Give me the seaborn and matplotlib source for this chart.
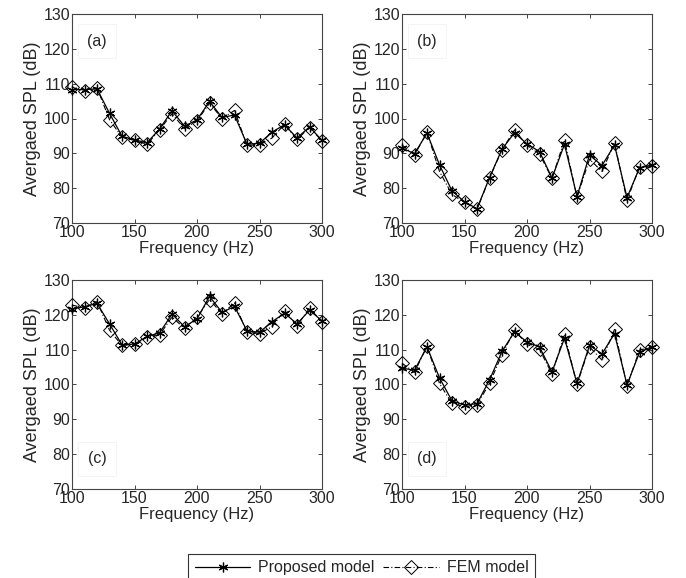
import numpy as np
import pandas as pd
import matplotlib
matplotlib.use("Agg")
import matplotlib.pyplot as plt
import seaborn as sns

# -----------------------------------------------
# datos
# -----------------------------------------------
freq = [100, 110, 120, 130, 140, 150, 160, 170, 180, 190, 200,
        210, 220, 230, 240, 250, 260, 270, 280, 290, 300]

prop_a = [108.3, 108.3, 108.5, 101.5, 94.9, 93.9, 93.0, 97.0, 102.2, 97.8, 99.6,
          104.9, 100.3, 101.0, 92.6, 92.9, 96.1, 98.2, 94.4, 97.6, 93.7]
fem_a = [109.0, 107.8, 108.8, 99.7, 94.6, 93.7, 92.6, 96.7, 101.4, 97.1, 99.3,
         104.4, 100.0, 102.3, 92.3, 92.4, 94.4, 98.3, 94.0, 97.4, 93.6]

prop_b = [91.5, 89.9, 95.8, 86.7, 79.2, 76.1, 74.1, 83.0, 91.2, 95.9, 92.7,
          90.5, 82.9, 92.6, 77.6, 89.5, 86.5, 92.4, 77.3, 85.8, 86.6]
fem_b = [92.4, 89.5, 96.0, 84.8, 78.2, 75.9, 73.9, 82.9, 91.0, 96.7, 92.3,
         89.8, 82.8, 93.8, 77.4, 88.3, 84.8, 93.0, 76.5, 86.1, 86.5]

prop_c = [121.7, 122.3, 123.3, 117.4, 111.4, 111.6, 113.8, 114.8, 120.2, 116.6, 118.8,
          125.3, 120.7, 122.4, 115.4, 115.0, 118.0, 120.5, 117.4, 121.3, 118.3]
fem_c = [122.8, 122.0, 123.8, 115.6, 111.2, 111.5, 113.6, 114.2, 119.4, 116.1, 119.3,
         124.4, 120.3, 123.4, 115.0, 114.6, 116.6, 121.2, 116.9, 121.9, 118.0]

prop_d = [104.7, 104.1, 110.8, 101.9, 95.3, 94.1, 94.5, 101.3, 109.5, 115.1, 112.2,
          110.8, 103.6, 113.3, 100.3, 111.2, 108.8, 114.6, 99.9, 109.2, 110.9]
fem_d = [106.1, 103.5, 111.0, 100.3, 94.6, 93.6, 94.2, 100.3, 108.6, 115.6, 111.5,
         110.1, 103.0, 114.4, 100.0, 110.8, 107.0, 115.8, 99.6, 109.9, 110.7]

panel_labels = ["(a)", "(b)", "(c)", "(d)"]
x_ticks = [100, 150, 200, 250, 300]
y_ticks = [70, 80, 90, 100, 110, 120, 130]

# -----------------------------------------------
# estilo
# -----------------------------------------------
sns.set_style("ticks")
plt.rcParams["font.family"] = ["Liberation Sans", "DejaVu Sans"]
plt.rcParams["xtick.direction"] = "in"
plt.rcParams["ytick.direction"] = "in"
plt.rcParams["xtick.top"] = True
plt.rcParams["ytick.right"] = True

fig = plt.figure(figsize=(6.86, 5.78), dpi=100)

# posiciones de los ejes (fraccion de figura)
ax_w, ax_h = 250 / 686, 209 / 578
lefts = [72 / 686, 402 / 686, 72 / 686, 402 / 686]
bottoms = [1 - 223 / 578, 1 - 223 / 578, 1 - 489 / 578, 1 - 489 / 578]

series = [(prop_a, fem_a), (prop_b, fem_b), (prop_c, fem_c), (prop_d, fem_d)]

for i, (prop, fem) in enumerate(series):
    ax = fig.add_axes([lefts[i], bottoms[i], ax_w, ax_h])
    df = pd.DataFrame({"freq": freq, "Proposed model": prop, "FEM model": fem})

    sns.lineplot(data=df, x="freq", y="FEM model", ax=ax, color="black",
                 linewidth=0.8, linestyle=(0, (5, 2, 1, 2)), marker="D",
                 markersize=7, markerfacecolor="none", markeredgecolor="black",
                 markeredgewidth=0.7, label="FEM model", legend=False,
                 clip_on=False, zorder=3)
    sns.lineplot(data=df, x="freq", y="Proposed model", ax=ax, color="black",
                 linewidth=0.9, marker=(6, 2, 0), markersize=7,
                 markeredgecolor="black", markeredgewidth=0.9,
                 label="Proposed model", legend=False, clip_on=False, zorder=4)

    ax.set_xlim(100, 300)
    ax.set_ylim(70, 130)
    ax.set_xticks(x_ticks)
    ax.set_yticks(y_ticks)
    ax.tick_params(labelsize=11.5, length=3, width=0.6, pad=1.5)
    for s in ax.spines.values():
        s.set_linewidth(0.8)
        s.set_color("#444444")
    ax.set_xlabel("Frequency (Hz)", fontsize=12, labelpad=0.5)
    ax.set_ylabel("Avergaed SPL (dB)", fontsize=13, labelpad=2)

    if i < 2:
        ax.text(0.10, 0.87, panel_labels[i], transform=ax.transAxes, fontsize=11.5,
                ha="center", va="center",
                bbox=dict(boxstyle="square,pad=0.6", fc="white", ec="#f2f2f2", lw=0.6))
    else:
        ax.text(0.10, 0.145, panel_labels[i], transform=ax.transAxes, fontsize=11.5,
                ha="center", va="center",
                bbox=dict(boxstyle="square,pad=0.6", fc="white", ec="#f2f2f2", lw=0.6))

    if i == 0:
        handles, labels = ax.get_legend_handles_labels()

# leyenda comun abajo: primero el modelo propuesto
order = [labels.index("Proposed model"), labels.index("FEM model")]
leg = fig.legend([handles[k] for k in order], [labels[k] for k in order],
                 loc="lower center", bbox_to_anchor=(0.527, -0.02), ncol=2,
                 fontsize=11.5, frameon=True, fancybox=False, edgecolor="black",
                 handlelength=3.5, columnspacing=0.5, handletextpad=0.5,
                 borderpad=0.4)
leg.get_frame().set_linewidth(0.8)

fig.savefig("out.png", dpi=100)
